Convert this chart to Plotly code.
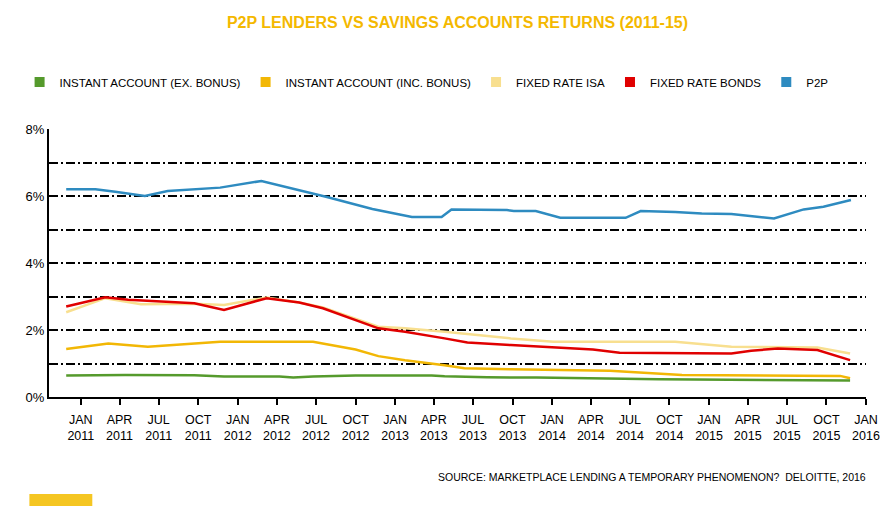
import plotly.graph_objects as go

# values (percent)
p2p_dates = ["2010-11-28", "2011-02-04", "2011-03-22", "2011-05-30", "2011-07-22", "2011-09-22",
             "2011-11-21", "2012-02-25", "2012-06-08", "2012-07-24", "2012-11-09", "2013-02-09",
             "2013-04-19", "2013-05-12", "2013-09-18", "2013-10-04", "2013-11-24", "2014-01-20",
             "2014-06-21", "2014-07-26", "2014-10-14", "2014-12-15", "2015-02-22", "2015-06-01",
             "2015-08-09", "2015-09-24", "2015-11-27"]
p2p = [6.20, 6.20, 6.13, 6.00, 6.15, 6.20, 6.25, 6.45, 6.13, 5.98, 5.61, 5.37, 5.37, 5.60,
       5.58, 5.55, 5.55, 5.35, 5.35, 5.55, 5.52, 5.48, 5.46, 5.33, 5.60, 5.68, 5.88]

bonds_dates = ["2010-11-28", "2011-02-27", "2011-04-21", "2011-07-06", "2011-09-22", "2011-11-30",
               "2012-03-08", "2012-05-23", "2012-07-17", "2012-11-23", "2013-01-24", "2013-04-26",
               "2013-06-18", "2013-09-27", "2014-01-04", "2014-04-06", "2014-06-07", "2014-12-31",
               "2015-02-22", "2015-04-09", "2015-06-10", "2015-09-10", "2015-11-25"]
bonds = [2.70, 2.98, 2.90, 2.85, 2.80, 2.60, 2.95, 2.82, 2.65, 2.05, 1.95, 1.75,
         1.63, 1.55, 1.48, 1.42, 1.32, 1.32, 1.30, 1.38, 1.45, 1.40, 1.10]

isa_dates = ["2010-11-28", "2011-02-27", "2011-05-21", "2011-09-22", "2011-11-30", "2012-03-08",
             "2012-05-23", "2012-07-17", "2012-11-23", "2013-01-24", "2013-04-26", "2013-09-27",
             "2014-01-04", "2014-10-14", "2015-02-22", "2015-09-10", "2015-11-25"]
isa = [2.53, 2.95, 2.77, 2.78, 2.75, 2.97, 2.82, 2.67, 2.10, 2.05, 1.95, 1.75,
       1.65, 1.65, 1.50, 1.48, 1.30]

inc_dates = ["2010-11-28", "2011-03-06", "2011-06-06", "2011-10-06", "2011-11-21", "2012-06-24",
             "2012-10-01", "2012-11-23", "2013-01-24", "2013-04-26", "2013-06-11", "2013-09-27",
             "2014-05-15", "2014-10-30", "2015-11-02", "2015-11-25"]
inc_bonus = [1.43, 1.60, 1.50, 1.62, 1.65, 1.65, 1.42, 1.22, 1.10, 0.95, 0.86, 0.83,
             0.78, 0.66, 0.63, 0.56]

ex_dates = ["2010-11-28", "2011-04-14", "2011-09-22", "2011-11-30", "2012-04-07", "2012-05-09",
            "2012-06-24", "2012-10-01", "2013-03-27", "2013-04-26", "2013-08-03", "2013-11-26",
            "2014-09-07", "2015-04-25", "2015-11-25"]
ex_bonus = [0.64, 0.66, 0.65, 0.61, 0.61, 0.58, 0.61, 0.64, 0.64, 0.62, 0.59, 0.58,
            0.53, 0.51, 0.49]

tick_dates = ["2011-01-01", "2011-04-01", "2011-07-01", "2011-10-01",
              "2012-01-01", "2012-04-01", "2012-07-01", "2012-10-01",
              "2013-01-01", "2013-04-01", "2013-07-01", "2013-10-01",
              "2014-01-01", "2014-04-01", "2014-07-01", "2014-10-01",
              "2015-01-01", "2015-04-01", "2015-07-01", "2015-10-01", "2016-01-01"]
months = {"01": "JAN", "04": "APR", "07": "JUL", "10": "OCT"}
tick_text = [months[d[5:7]] + "<br>" + d[:4] for d in tick_dates]

y_vals = [0, 1, 2, 3, 4, 5, 6, 7, 8]
y_text = ["0%", "", "2%", "", "4%", "", "6%", "", "8%"]

GREEN = "#559a2c"
GOLD = "#f2b705"
LIGHT = "#f8df8f"
RED = "#e00000"
BLUE = "#2e8bc0"
FONT = "Liberation Sans, Arial, sans-serif"

fig = go.Figure()

fig.add_trace(go.Scatter(x=isa_dates, y=isa, mode='lines', line=dict(color=LIGHT, width=2.5), showlegend=False))
fig.add_trace(go.Scatter(x=bonds_dates, y=bonds, mode='lines', line=dict(color=RED, width=2.5), showlegend=False))
fig.add_trace(go.Scatter(x=inc_dates, y=inc_bonus, mode='lines', line=dict(color=GOLD, width=2.5), showlegend=False))
fig.add_trace(go.Scatter(x=ex_dates, y=ex_bonus, mode='lines', line=dict(color=GREEN, width=2.5), showlegend=False))
fig.add_trace(go.Scatter(x=p2p_dates, y=p2p, mode='lines', line=dict(color=BLUE, width=2.5), showlegend=False))

# legend swatches
legend_items = [("INSTANT ACCOUNT (EX. BONUS)", GREEN), ("INSTANT ACCOUNT (INC. BONUS)", GOLD),
                ("FIXED RATE ISA", LIGHT), ("FIXED RATE BONDS", RED), ("P2P", BLUE)]
for name, col in legend_items:
    fig.add_trace(go.Scatter(x=[None], y=[None], mode='markers', name=name,
                             marker=dict(symbol='square', size=10, color=col)))

# page body adds an 8px offset, so the figure is sized 8px smaller
fig.update_layout(
    width=885, height=498,
    margin=dict(l=32, r=27, t=121, b=109),
    paper_bgcolor="white", plot_bgcolor="white",
    font=dict(family=FONT, color="black", size=12),
    title=dict(text="<b>P2P LENDERS VS SAVINGS ACCOUNTS RETURNS (2011-15)</b>",
               x=0.5, xref="paper", xanchor="center", y=0.972, yanchor="middle",
               font=dict(family=FONT, size=16, color="#f4b800")),
    legend=dict(orientation='h', x=-0.036, xanchor='left', y=1.175, yanchor='middle',
                font=dict(family=FONT, size=11.5, color="black"), itemwidth=30,
                bgcolor="rgba(0,0,0,0)"),
    xaxis=dict(type='date', range=["2010-10-19", "2016-01-01"],
               tickvals=tick_dates, ticktext=tick_text,
               showgrid=False, showline=True, linecolor="black", linewidth=2,
               ticks='outside', ticklen=6, tickwidth=2, tickcolor="black",
               ticklabelstandoff=4,
               tickfont=dict(family=FONT, size=12.5, color="black"), zeroline=False),
    yaxis=dict(range=[0, 8], tickvals=y_vals, ticktext=y_text,
               showgrid=True, gridcolor="black", gridwidth=2, griddash="9px,3px,2px,3px",
               showline=True, linecolor="black", linewidth=2, zeroline=False,
               tickfont=dict(family=FONT, size=13, color="black")),
    annotations=[dict(text="SOURCE: MARKETPLACE LENDING A TEMPORARY PHENOMENON?  DELOITTE, 2016",
                      xref="paper", yref="paper", x=1.003, y=-0.3, xanchor="right", yanchor="middle",
                      showarrow=False, font=dict(family=FONT, size=10.5, color="black"))],
    shapes=[dict(type="rect", xref="paper", yref="paper", x0=-0.024, x1=0.053, y0=-0.362, y1=-0.41,
                 fillcolor="#f5c622", line=dict(width=0))],
)

fig.write_html("out.html")
